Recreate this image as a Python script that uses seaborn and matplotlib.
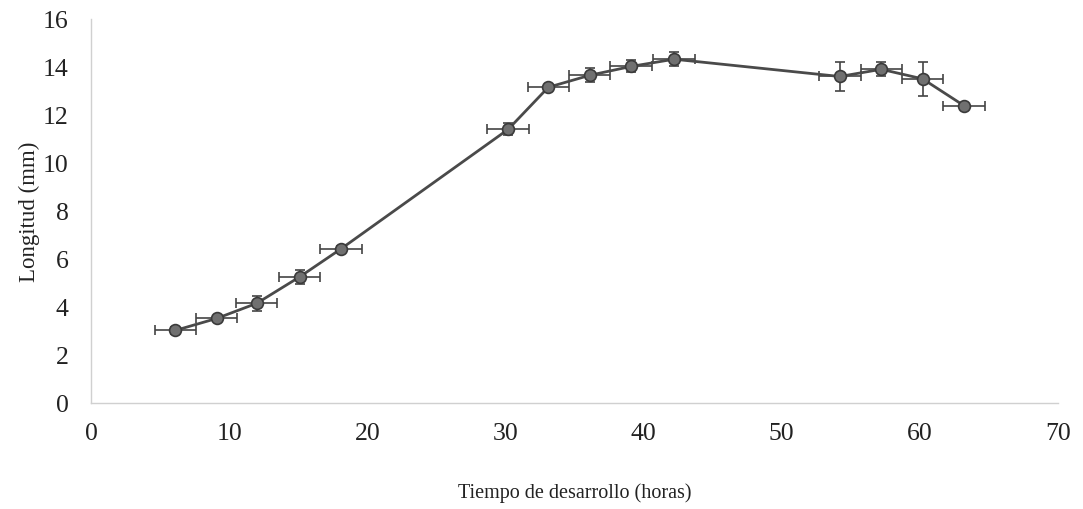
import numpy as np
import pandas as pd
import seaborn as sns
import matplotlib.pyplot as plt

# --- datos ---
horas = [6.1, 9.1, 12.0, 15.1, 18.1, 30.2, 33.1, 36.1, 39.1, 42.2, 54.2, 57.2, 60.2, 63.2]
longitud = [3.02, 3.52, 4.15, 5.25, 6.42, 11.4, 13.15, 13.65, 14.02, 14.32, 13.6, 13.9, 13.5, 12.38]
err_x = [1.5, 1.5, 1.5, 1.5, 1.5, 1.5, 1.5, 1.5, 1.5, 1.5, 1.5, 1.5, 1.5, 1.5]
err_y = [0.15, 0.1, 0.3, 0.3, 0.12, 0.25, 0.1, 0.3, 0.25, 0.28, 0.6, 0.3, 0.7, 0.12]

df = pd.DataFrame({'horas': horas, 'longitud': longitud})

sns.set_style('white')
plt.rcParams['font.family'] = ['Liberation Serif', 'DejaVu Serif']

fig = plt.figure(figsize=(10.83, 5.1), dpi=100)
ax = fig.add_axes([0.084, 0.208, 0.893, 0.753])

# barras de error
ax.errorbar(horas, longitud, xerr=err_x, yerr=err_y, fmt='none',
            ecolor='#444444', elinewidth=1.2, capsize=3.5, capthick=1.2, zorder=2)

# linea y puntos
sns.lineplot(data=df, x='horas', y='longitud', ax=ax, color='#4a4a4a',
             linewidth=2.0, marker='o', markersize=8.5, markerfacecolor='#707070',
             markeredgecolor='#3a3a3a', markeredgewidth=1.2, zorder=3)

ax.set_xlim(0, 70)
ax.set_ylim(0, 16)
ax.set_xticks(range(0, 71, 10))
ax.set_yticks(range(0, 17, 2))
ax.tick_params(axis='both', labelsize=18.5, colors='#222222', length=0)
ax.tick_params(axis='x', pad=14)
ax.tick_params(axis='y', pad=16)

for s in ['top', 'right']:
    ax.spines[s].set_visible(False)
for s in ['left', 'bottom']:
    ax.spines[s].set_color('#d0d0d0')
    ax.spines[s].set_linewidth(1.0)

ax.set_xlabel('Tiempo de desarrollo (horas)', fontsize=14.5, color='#222222', labelpad=27)
ax.set_ylabel('Longitud (mm)', fontsize=16.5, color='#222222', labelpad=2)

fig.savefig('out.png', dpi=100)
